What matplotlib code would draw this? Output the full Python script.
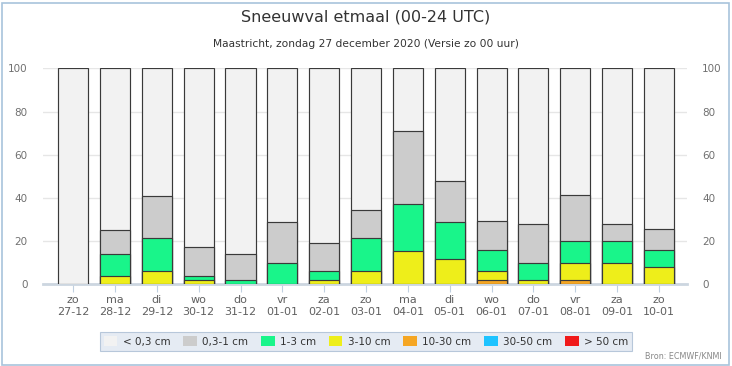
import matplotlib
matplotlib.use("Agg")
import matplotlib.pyplot as plt
from matplotlib.patches import Rectangle
import numpy as np

# ==============================
# Data (kans in %, cumulatief)
# ==============================

days = ["zo", "ma", "di", "wo", "do", "vr", "za", "zo",
        "ma", "di", "wo", "do", "vr", "za", "zo"]
dates = ["27-12", "28-12", "29-12", "30-12", "31-12", "01-01", "02-01", "03-01",
         "04-01", "05-01", "06-01", "07-01", "08-01", "09-01", "10-01"]

p_lt03 = [100, 100, 100, 100, 100, 100, 100, 100, 100, 100, 100, 100, 100, 100, 100]
p_03_1 = [0, 25, 41, 17.5, 14, 29, 19, 34.5, 71, 48, 29.5, 28, 41.5, 28, 25.5]
p_1_3 = [0, 14, 21.5, 4, 2, 10, 6, 21.5, 37, 29, 16, 10, 20, 20, 16]
p_3_10 = [0, 4, 6, 2, 0, 0, 2, 6, 15.5, 11.5, 6, 2, 10, 10, 8]
p_10_30 = [0, 0, 0, 0, 0, 0, 0, 0, 0, 0, 2, 0, 2, 0, 0]
p_30_50 = [0] * 15
p_gt50 = [0] * 15

labels = ["< 0,3 cm", "0,3-1 cm", "1-3 cm", "3-10 cm", "10-30 cm", "30-50 cm", "> 50 cm"]
colors = ["#f2f2f2", "#cccccc", "#19f58a", "#eeee1a", "#f5a623", "#1ec3ff", "#f01a1a"]
series = [p_lt03, p_03_1, p_1_3, p_3_10, p_10_30, p_30_50, p_gt50]

# ==============================
# Plot
# ==============================

fig = plt.figure(figsize=(7.32, 3.66), dpi=100)
ax = fig.add_axes([43 / 732, 1 - 284.3 / 366, (687 - 43) / 732, (284.3 - 68.3) / 366])

x = np.arange(len(days))
for i, (vals, col) in enumerate(zip(series, colors)):
    vals = np.array(vals, dtype=float)
    mask = vals > 0
    ax.bar(x[mask], vals[mask], width=0.72, color=col, edgecolor="#3a3a3a",
           linewidth=0.85, zorder=3 + i)

ax.set_xlim(-0.72, 14.67)
ax.set_ylim(0, 100)
ax.set_yticks(range(0, 101, 20))
ax.grid(axis="y", color="#e6e6e6", linewidth=1, zorder=0)
ax.set_axisbelow(True)

for s in ["top", "right", "left"]:
    ax.spines[s].set_visible(False)
ax.spines["bottom"].set_color("#ccd6e0")
ax.spines["bottom"].set_linewidth(2)
ax.spines["bottom"].set_zorder(2)

ax.set_xticks(x)
ax.set_xticklabels([f"{d}\n{dt}" for d, dt in zip(days, dates)],
                   fontsize=8, color="#606060", linespacing=1.25)
ax.tick_params(axis="x", length=6, color="#c0d0e0", pad=2)
ax.tick_params(axis="y", length=0, labelsize=7.5, labelcolor="#707070", pad=11,
               labelright=True, labelleft=True)

fig.text(0.5, 1 - 17 / 366, "Sneeuwval etmaal (00-24 UTC)", ha="center", va="center",
         fontsize=11.5, color="#333333")
fig.text(0.5, 1 - 44 / 366, "Maastricht, zondag 27 december 2020 (Versie zo 00 uur)",
         ha="center", va="center", fontsize=7.7, color="#333333")

leg = fig.legend(handles=[Rectangle((0, 0), 1, 1, facecolor=c, edgecolor="none") for c in colors],
                 labels=labels, loc="center", bbox_to_anchor=(366 / 732, 1 - 341.5 / 366),
                 ncol=7, fontsize=7.5, frameon=True, fancybox=False,
                 handlelength=1.3, handleheight=1.1, handletextpad=0.5,
                 columnspacing=1.25, borderpad=0.4, labelcolor="#333333")
leg.get_frame().set_facecolor("#dfe7f1")
leg.get_frame().set_edgecolor("#a9bcd3")
leg.get_frame().set_linewidth(0.8)

fig.text(722 / 732, 1 - 356 / 366, "Bron: ECMWF/KNMI", ha="right", va="center",
         fontsize=5.8, color="#888888")

fig.patches.append(Rectangle((1.5 / 732, 1.5 / 366), 727 / 732, 362 / 366,
                             transform=fig.transFigure, fill=False,
                             edgecolor="#a8c4dc", linewidth=1.2))

plt.savefig("out.png", dpi=100)
